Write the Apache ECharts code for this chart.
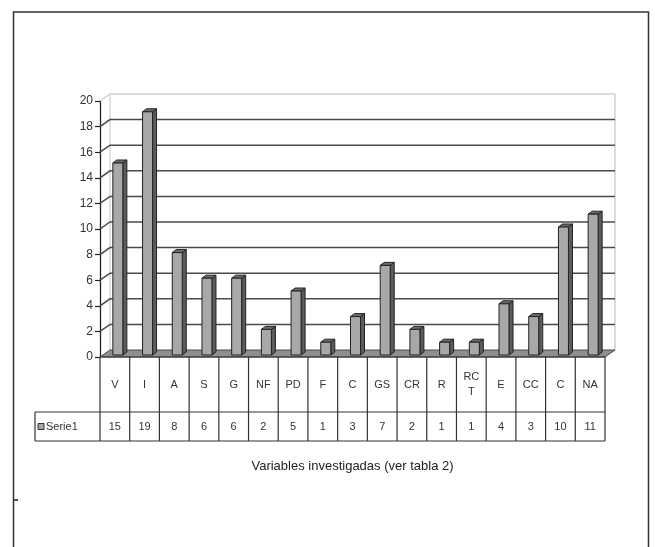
<!DOCTYPE html>
<html>
<head>
<meta charset="utf-8">
<script src="https://cdn.jsdelivr.net/npm/echarts@6/dist/echarts.min.js"></script>
<style>
  html, body { margin: 0; padding: 0; background: #fff; }
  #chart { width: 655px; height: 547px; }
</style>
</head>
<body>
<div id="chart"></div>
<script>
// Categories along the horizontal axis (the data table's header row)
const categories = ['V', 'I', 'A', 'S', 'G', 'NF', 'PD', 'F', 'C', 'GS', 'CR', 'R', 'RC\nT', 'E', 'CC', 'C', 'NA'];
// Counts for the single series
const serie1 = [15, 19, 8, 6, 6, 2, 5, 1, 3, 7, 2, 1, 1, 4, 3, 10, 11];
const seriesName = 'Serie1';
const axisTitle = 'Variables investigadas (ver tabla 2)';
// Value axis scale
const yMin = 0;
const yMax = 20;
const yStep = 2;

const FONT = '"Liberation Sans", Arial, sans-serif';
// 3D look: offset of the back wall and of the bars' depth
const WALL_DX = 10, WALL_DY = 7;
const BAR_DX = 4, BAR_DY = 3;

const chart = echarts.init(document.getElementById('chart'), null, { renderer: 'canvas' });

function band(api) { return api.size([1, 0])[0]; }

// Back wall, gridlines, floor and the fixed parts of the data table
function renderFrame(params, api) {
  const n = categories.length;
  const w = band(api);
  const left = api.coord([0, yMin])[0] - w / 2;
  const right = api.coord([n - 1, yMin])[0] + w / 2;
  const y0 = api.coord([0, yMin])[1];
  const yTop = api.coord([0, yMax])[1];
  const ch = [];
  // wall edges
  ch.push({ type: 'line', shape: { x1: left + WALL_DX, y1: yTop - WALL_DY, x2: left + WALL_DX, y2: y0 - WALL_DY },
            style: { stroke: '#c8c8c8', lineWidth: 1 } });
  ch.push({ type: 'line', shape: { x1: right + WALL_DX, y1: yTop - WALL_DY, x2: right + WALL_DX, y2: y0 - WALL_DY },
            style: { stroke: '#d0d0d0', lineWidth: 1.5 } });
  // gridlines: short diagonal on the side wall, then across the back wall
  for (let v = yMin + yStep; v <= yMax; v += yStep) {
    const y = api.coord([0, v])[1];
    const col = v === yMax ? '#cfcfcf' : '#4a4a4a';
    ch.push({ type: 'polyline', shape: { points: [[left, y], [left + WALL_DX, y - WALL_DY], [right + WALL_DX, y - WALL_DY]] },
              style: { stroke: col, lineWidth: v === yMax ? 1.5 : 1.5, fill: null } });
  }
  // floor
  ch.push({ type: 'polygon', shape: { points: [[left, y0], [right, y0], [right + WALL_DX, y0 - WALL_DY], [left + WALL_DX, y0 - WALL_DY]] },
            style: { fill: '#8f8f8f', stroke: '#4a4a4a', lineWidth: 1 } });
  // data table rows
  const rowCat = y0 + 55, rowVal = y0 + 84, keyLeft = 35;
  ch.push({ type: 'line', shape: { x1: left, y1: y0, x2: right, y2: y0 }, style: { stroke: '#333', lineWidth: 1.2 } });
  ch.push({ type: 'line', shape: { x1: keyLeft, y1: rowCat, x2: right, y2: rowCat }, style: { stroke: '#333', lineWidth: 1.2 } });
  ch.push({ type: 'line', shape: { x1: keyLeft, y1: rowVal, x2: right, y2: rowVal }, style: { stroke: '#333', lineWidth: 1.2 } });
  ch.push({ type: 'line', shape: { x1: keyLeft, y1: rowCat, x2: keyLeft, y2: rowVal }, style: { stroke: '#333', lineWidth: 1.2 } });
  ch.push({ type: 'line', shape: { x1: left, y1: y0, x2: left, y2: rowVal }, style: { stroke: '#333', lineWidth: 1.2 } });
  // series key in the table
  ch.push({ type: 'rect', shape: { x: keyLeft + 3, y: (rowCat + rowVal) / 2 - 3, width: 6, height: 6 },
            style: { fill: '#a6a6a6', stroke: '#333', lineWidth: 1 } });
  ch.push({ type: 'text', style: { text: seriesName, x: keyLeft + 11, y: (rowCat + rowVal) / 2, align: 'left', verticalAlign: 'middle',
            font: '11px ' + FONT, fill: '#333' } });
  return { type: 'group', children: ch };
}

// One 3D column per category
function renderBar(params, api) {
  const i = api.value(0), v = api.value(1);
  const [cx, yv] = api.coord([i, v]);
  const y0 = api.coord([i, yMin])[1];
  const x1 = cx - 2, x2 = cx + 8;
  const top = yv - 2, base = y0 - 2;
  return {
    type: 'group',
    children: [
      { type: 'polygon', shape: { points: [[x2, top], [x2 + BAR_DX, top - BAR_DY], [x2 + BAR_DX, base - BAR_DY], [x2, base]] },
        style: { fill: '#5c5c5c', stroke: '#222', lineWidth: 1 } },
      { type: 'polygon', shape: { points: [[x1, top], [x1 + BAR_DX, top - BAR_DY], [x2 + BAR_DX, top - BAR_DY], [x2, top]] },
        style: { fill: '#6e6e6e', stroke: '#222', lineWidth: 1 } },
      { type: 'rect', shape: { x: x1, y: top, width: x2 - x1, height: base - top },
        style: { fill: '#a8a8a8', stroke: '#222', lineWidth: 1 } }
    ]
  };
}

// Data table cells: category name and value under each column
function renderCell(params, api) {
  const i = api.value(0), v = api.value(1);
  const w = band(api);
  const [cx, y0] = api.coord([i, yMin]);
  const rowCat = y0 + 55, rowVal = y0 + 84;
  return {
    type: 'group',
    children: [
      { type: 'line', shape: { x1: cx + w / 2, y1: y0, x2: cx + w / 2, y2: rowVal }, style: { stroke: '#333', lineWidth: 1.2 } },
      { type: 'text', style: { text: categories[i], x: cx, y: (y0 + rowCat) / 2, align: 'center', verticalAlign: 'middle',
        font: '11px ' + FONT, lineHeight: 15, fill: '#333' } },
      { type: 'text', style: { text: String(v), x: cx, y: (rowCat + rowVal) / 2, align: 'center', verticalAlign: 'middle',
        font: '11px ' + FONT, fill: '#333' } }
    ]
  };
}

const pts = serie1.map((v, i) => [i, v]);

chart.setOption({
  animation: false,
  backgroundColor: '#fff',
  grid: { left: 100, right: 50, top: 101, bottom: 190 },
  xAxis: {
    type: 'category',
    data: categories,
    boundaryGap: true,
    axisLine: { show: false },
    axisTick: { show: false },
    axisLabel: { show: false },
    splitLine: { show: false },
    name: axisTitle,
    nameLocation: 'middle',
    nameGap: 103,
    nameTextStyle: { fontFamily: FONT, fontSize: 13, color: '#222' }
  },
  yAxis: {
    type: 'value',
    min: yMin, max: yMax, interval: yStep,
    axisLine: { show: true, lineStyle: { color: '#222', width: 1.3 } },
    axisTick: { show: true, length: 5, lineStyle: { color: '#222', width: 1.2 } },
    axisLabel: { fontFamily: FONT, fontSize: 12, color: '#333', margin: 7 },
    splitLine: { show: false }
  },
  series: [
    { type: 'custom', name: 'frame', data: [[0, 0]], renderItem: renderFrame, silent: true, z: 1 },
    { type: 'custom', name: seriesName, data: pts, renderItem: renderBar, silent: true, z: 3 },
    { type: 'custom', name: 'table', data: pts, renderItem: renderCell, silent: true, z: 2 }
  ],
  graphic: [
    { type: 'rect', shape: { x: 13.5, y: 12, width: 635, height: 560 }, style: { fill: null, stroke: '#333', lineWidth: 1.5 }, silent: true },
    { type: 'line', shape: { x1: 14, y1: 500, x2: 18, y2: 500 }, style: { stroke: '#555', lineWidth: 2 }, silent: true }
  ]
});
</script>
</body>
</html>
